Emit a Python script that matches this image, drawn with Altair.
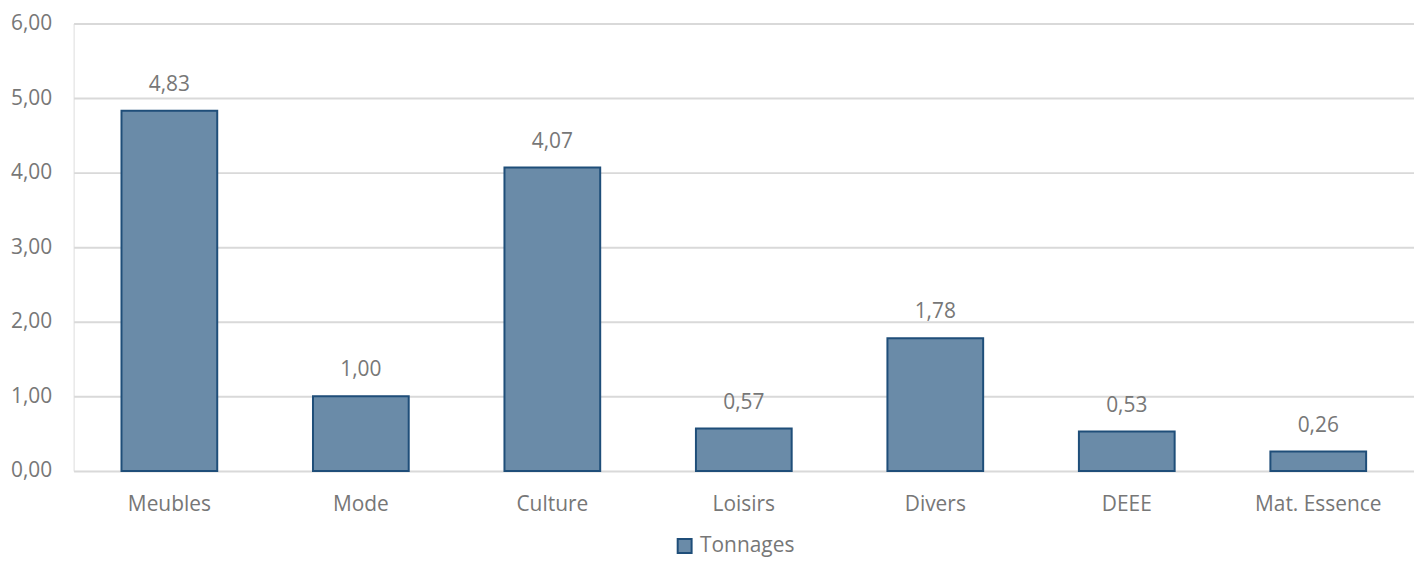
import altair as alt
import pandas as pd

categories = ["Meubles", "Mode", "Culture", "Loisirs", "Divers", "DEEE", "Mat. Essence"]
tonnages = [4.83, 1.00, 4.07, 0.57, 1.78, 0.53, 0.26]
series_name = "Tonnages"
y_ticks = [0, 1, 2, 3, 4, 5, 6]

df = pd.DataFrame({
    "cat": categories,
    "val": tonnages,
    "serie": [series_name] * len(categories),
})
df["lbl"] = df["val"].map(lambda v: f"{v:.2f}".replace(".", ","))

FONT = "Open Sans"
GRAY = "#777777"
FILL = "#6a8ba8"
STROKE = "#1f4e79"
FS = 21

base = alt.Chart(df)

x_enc = alt.X(
    "cat:N",
    sort=categories,
    scale=alt.Scale(paddingInner=0.5, paddingOuter=0.25),
    axis=alt.Axis(
        title=None, labelAngle=0, domain=False, ticks=False,
        labelPadding=23, labelFontSize=FS, labelColor=GRAY, labelFont=FONT,
    ),
)

bars = base.mark_bar(strokeWidth=2, stroke=STROKE).encode(
    x=x_enc,
    y=alt.Y(
        "val:Q",
        scale=alt.Scale(domain=[0, 6], nice=False),
        axis=alt.Axis(
            title=None, values=y_ticks, domain=False, ticks=False,
            labelPadding=22, labelFontSize=FS, labelColor=GRAY, labelFont=FONT,
            gridColor="#d9d9d9", gridWidth=2,
            labelExpr="replace(format(datum.value, '.2f'), '.', ',')",
        ),
    ),
    color=alt.Color(
        "serie:N",
        scale=alt.Scale(range=[FILL]),
        legend=alt.Legend(
            title=None, orient="none", legendX=604, legendY=515,
            symbolType="square", symbolSize=196, symbolStrokeColor=STROKE,
            symbolStrokeWidth=2, symbolFillColor=FILL,
            labelFontSize=FS, labelColor=GRAY, labelFont=FONT, labelOffset=5,
        ),
    ),
)

labels = base.mark_text(
    baseline="bottom", dy=-16, fontSize=FS, color=GRAY, font=FONT
).encode(
    x=alt.X("cat:N", sort=categories),
    y=alt.Y("val:Q"),
    text="lbl:N",
)

chart = (
    alt.layer(bars, labels)
    .properties(
        width=1348,
        height=450,
        autosize=alt.AutoSizeParams(type="none"),
        padding={"left": 66, "top": 14, "right": 0, "bottom": 86},
    )
    .configure_view(stroke=None)
    .configure(font=FONT)
)

chart.save("out.html", embed_options={"renderer": "svg", "actions": False})
